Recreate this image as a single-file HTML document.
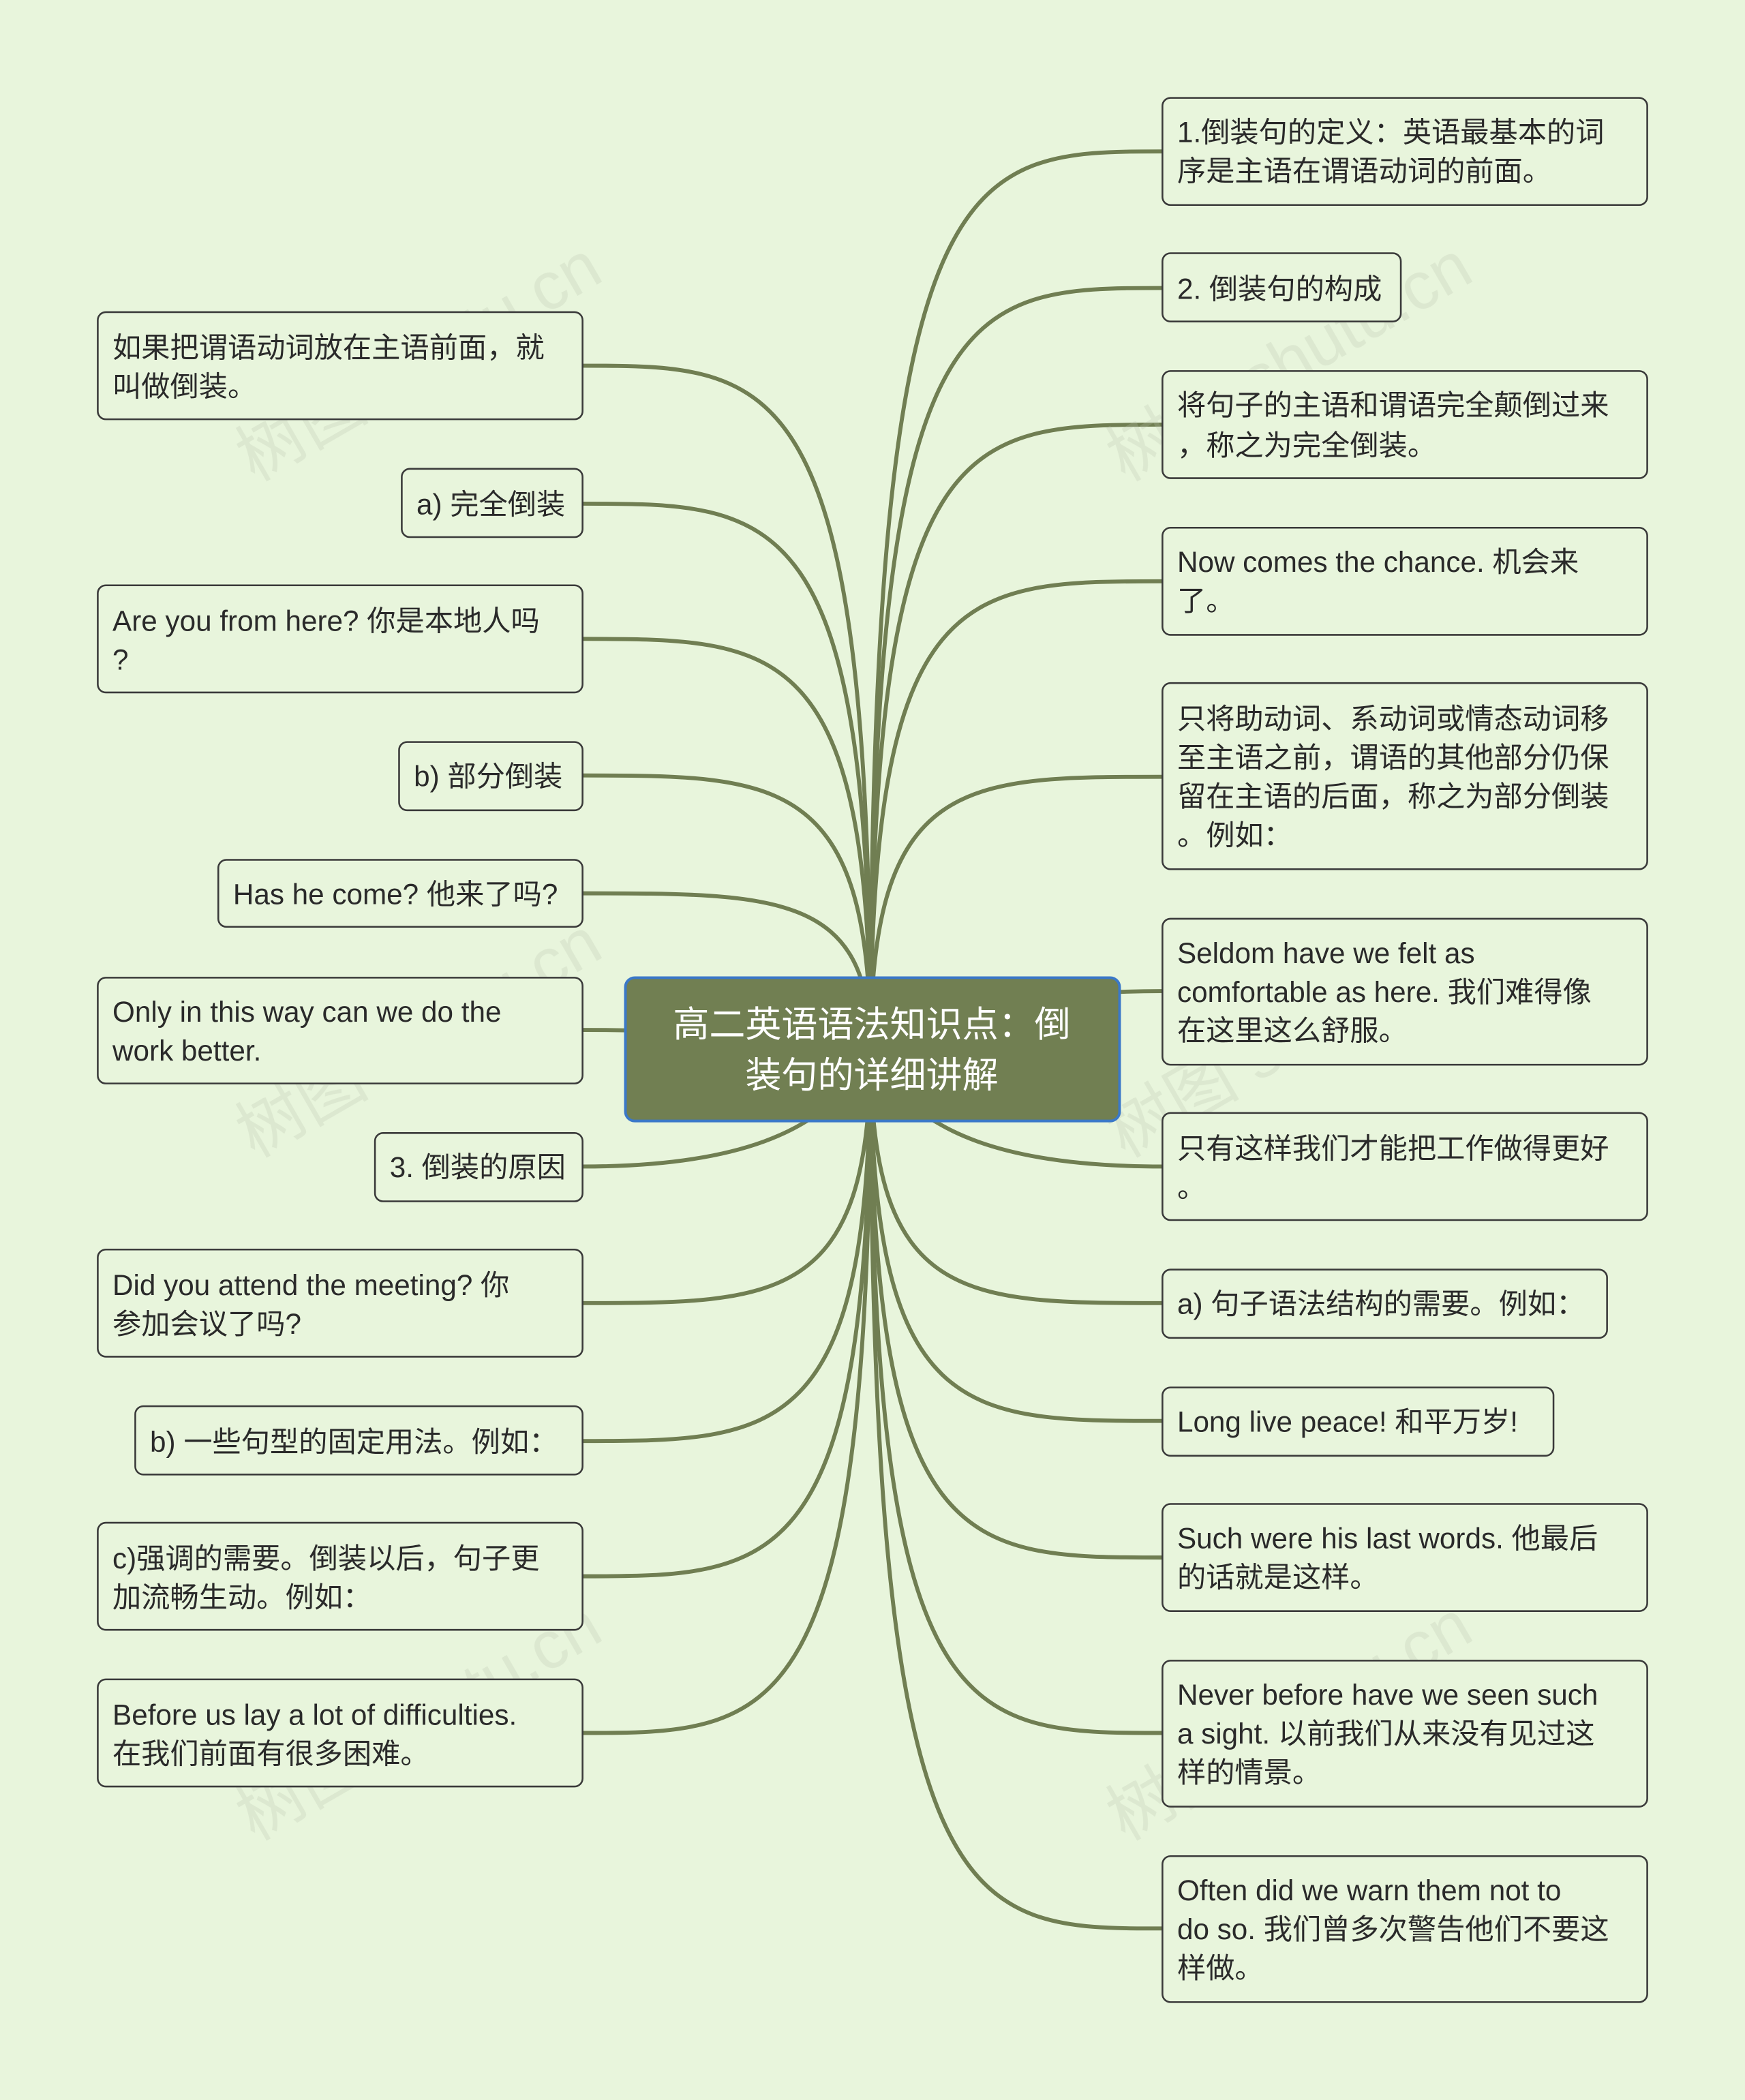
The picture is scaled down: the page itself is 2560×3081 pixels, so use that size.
<!DOCTYPE html>
<html><head><meta charset="utf-8"><style>
html,body{margin:0;padding:0;background:#e8f5dc;}
svg{display:block}
text{font-family:"Liberation Sans","Noto Sans CJK SC",sans-serif;font-size:21.5px;fill:#2a2a2a}
.n{fill:#e8f5dc;stroke:#3a3a3a;stroke-width:1.3}
.l{fill:none;stroke:#707e52;stroke-width:3}
.w{font-size:50px;fill:#b9c4ae;opacity:.5}
</style></head><body>
<svg width="2560" height="3081" viewBox="0 0 1303 1568" xmlns="http://www.w3.org/2000/svg">
<rect width="1303" height="1568" fill="#e8f5dc"/>
<g class="l">
<path d="M650,784 C650,113 720,113 868,113"/>
<path d="M650,784 C650,215 720,215 868,215"/>
<path d="M650,784 C650,317 720,317 868,317"/>
<path d="M650,784 C650,434 720,434 868,434"/>
<path d="M650,784 C650,580 720,580 868,580"/>
<path d="M650,784 C700,760 760,740 868,740"/>
<path d="M650,784 C680,850 760,871 868,871"/>
<path d="M650,784 C650,973 720,973 868,973"/>
<path d="M650,784 C650,1061 720,1061 868,1061"/>
<path d="M650,784 C650,1163 720,1163 868,1163"/>
<path d="M650,784 C650,1294 720,1294 868,1294"/>
<path d="M650,784 C650,1440 720,1440 868,1440"/>
<path d="M650,784 C650,273 580,273 435,273"/>
<path d="M650,784 C650,376 580,376 435,376"/>
<path d="M650,784 C650,477 580,477 435,477"/>
<path d="M650,784 C650,579 580,579 435,579"/>
<path d="M650,784 C650,667 580,667 435,667"/>
<path d="M650,784 C600,775 520,769 435,769"/>
<path d="M650,784 C620,850 540,871 435,871"/>
<path d="M650,784 C650,973 580,973 435,973"/>
<path d="M650,784 C650,1076 580,1076 435,1076"/>
<path d="M650,784 C650,1177 580,1177 435,1177"/>
<path d="M650,784 C650,1294 580,1294 435,1294"/>
</g>
<g class="w">
<text class="w" transform="translate(190,360) rotate(-30)">树图 shutu.cn</text>
<text class="w" transform="translate(840,360) rotate(-30)">树图 shutu.cn</text>
<text class="w" transform="translate(190,865) rotate(-30)">树图 shutu.cn</text>
<text class="w" transform="translate(840,865) rotate(-30)">树图 shutu.cn</text>
<text class="w" transform="translate(190,1375) rotate(-30)">树图 shutu.cn</text>
<text class="w" transform="translate(840,1375) rotate(-30)">树图 shutu.cn</text>
</g>
<rect x="467" y="730" width="369" height="107" rx="7" fill="#717f52" stroke="#3a78c8" stroke-width="2"/>
<text x="651" y="774" text-anchor="middle" style="font-size:27px;fill:#fff">高二英语语法知识点：倒</text>
<text x="651" y="812" text-anchor="middle" style="font-size:27px;fill:#fff">装句的详细讲解</text>
<g>
<rect class="n" x="868" y="73" width="362" height="80" rx="6"/><text x="879" y="106">1.倒装句的定义：英语最基本的词</text><text x="879" y="135">序是主语在谓语动词的前面。</text>
<rect class="n" x="868" y="189" width="178" height="51" rx="6"/><text x="879" y="223">2. 倒装句的构成</text>
<rect class="n" x="868" y="277" width="362" height="80" rx="6"/><text x="879" y="310">将句子的主语和谓语完全颠倒过来</text><text x="879" y="340">，称之为完全倒装。</text>
<rect class="n" x="868" y="394" width="362" height="80" rx="6"/><text x="879" y="427">Now comes the chance. 机会来</text><text x="879" y="456">了。</text>
<rect class="n" x="868" y="510" width="362" height="139" rx="6"/><text x="879" y="544">只将助动词、系动词或情态动词移</text><text x="879" y="573">至主语之前，谓语的其他部分仍保</text><text x="879" y="602">留在主语的后面，称之为部分倒装</text><text x="879" y="631">。例如：</text>
<rect class="n" x="868" y="686" width="362" height="109" rx="6"/><text x="879" y="719">Seldom have we felt as</text><text x="879" y="748">comfortable as here. 我们难得像</text><text x="879" y="777">在这里这么舒服。</text>
<rect class="n" x="868" y="831" width="362" height="80" rx="6"/><text x="879" y="865">只有这样我们才能把工作做得更好</text><text x="879" y="894">。</text>
<rect class="n" x="868" y="948" width="332" height="51" rx="6"/><text x="879" y="981">a) 句子语法结构的需要。例如：</text>
<rect class="n" x="868" y="1036" width="292" height="51" rx="6"/><text x="879" y="1069">Long live peace! 和平万岁!</text>
<rect class="n" x="868" y="1123" width="362" height="80" rx="6"/><text x="879" y="1156">Such were his last words. 他最后</text><text x="879" y="1185">的话就是这样。</text>
<rect class="n" x="868" y="1240" width="362" height="109" rx="6"/><text x="879" y="1273">Never before have we seen such</text><text x="879" y="1302"> a sight. 以前我们从来没有见过这</text><text x="879" y="1331">样的情景。</text>
<rect class="n" x="868" y="1386" width="362" height="109" rx="6"/><text x="879" y="1419">Often did we warn them not to</text><text x="879" y="1448">do so. 我们曾多次警告他们不要这</text><text x="879" y="1477">样做。</text>

<rect class="n" x="73" y="233" width="362" height="80" rx="6"/><text x="84" y="267">如果把谓语动词放在主语前面，就</text><text x="84" y="296">叫做倒装。</text>
<rect class="n" x="300" y="350" width="135" height="51" rx="6"/><text x="311" y="384">a) 完全倒装</text>
<rect class="n" x="73" y="437" width="362" height="80" rx="6"/><text x="84" y="471">Are you from here? 你是本地人吗</text><text x="84" y="500">?</text>
<rect class="n" x="298" y="554" width="137" height="51" rx="6"/><text x="309" y="587">b) 部分倒装</text>
<rect class="n" x="163" y="642" width="272" height="50" rx="6"/><text x="174" y="675">Has he come? 他来了吗?</text>
<rect class="n" x="73" y="730" width="362" height="79" rx="6"/><text x="84" y="763">Only in this way can we do the</text><text x="84" y="792">work better.</text>
<rect class="n" x="280" y="846" width="155" height="51" rx="6"/><text x="291" y="879">3. 倒装的原因</text>
<rect class="n" x="73" y="933" width="362" height="80" rx="6"/><text x="84" y="967">Did you attend the meeting? 你</text><text x="84" y="996">参加会议了吗?</text>
<rect class="n" x="101" y="1050" width="334" height="51" rx="6"/><text x="112" y="1084">b) 一些句型的固定用法。例如：</text>
<rect class="n" x="73" y="1137" width="362" height="80" rx="6"/><text x="84" y="1171">c)强调的需要。倒装以后，句子更</text><text x="84" y="1200">加流畅生动。例如：</text>
<rect class="n" x="73" y="1254" width="362" height="80" rx="6"/><text x="84" y="1288">Before us lay a lot of difficulties.</text><text x="84" y="1317"> 在我们前面有很多困难。</text>
</g>
</svg>
</body></html>
